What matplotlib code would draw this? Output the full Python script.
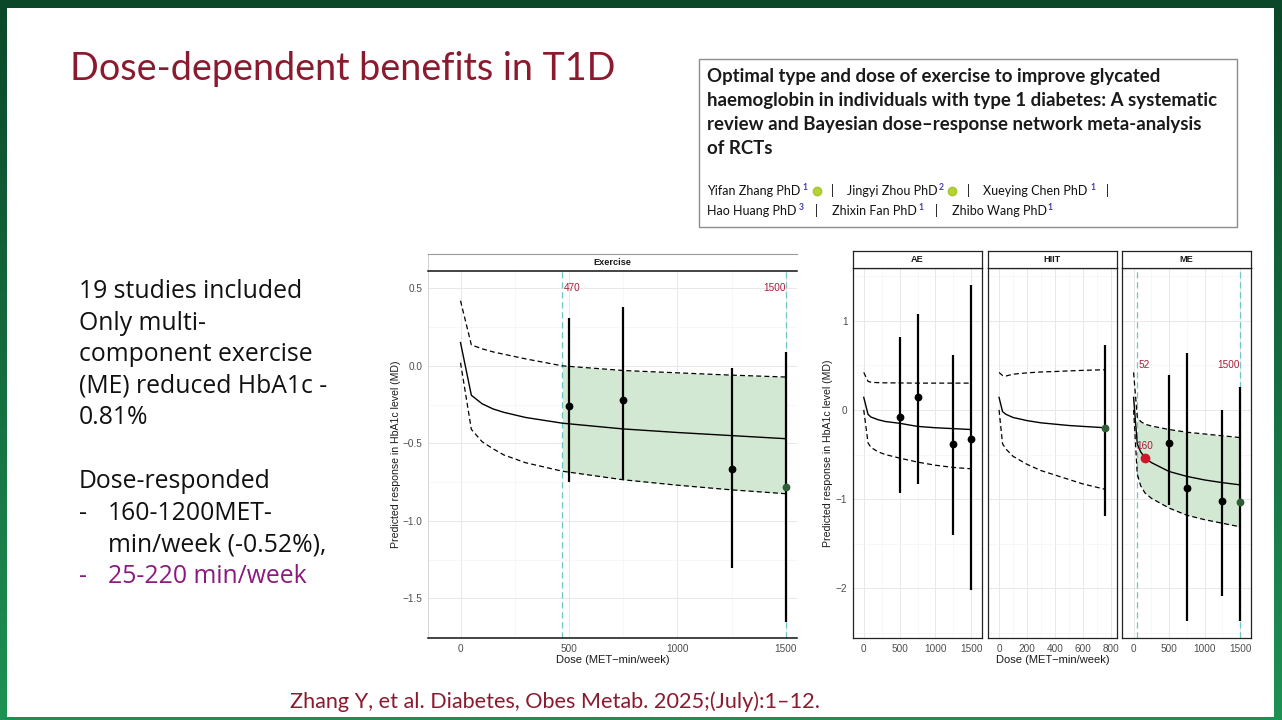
import matplotlib.pyplot as plt
import numpy as np
from matplotlib.patches import Rectangle
from matplotlib.ticker import FixedLocator
from matplotlib.colors import LinearSegmentedColormap

W, H = 1282, 720

# ---- data ----
ex_dose = [0, 50, 100, 150, 200, 300, 470, 750, 1000, 1250, 1500]
ex_fit = [0.15, -0.19, -0.245, -0.278, -0.30, -0.333, -0.37, -0.407, -0.43, -0.45, -0.47]
ex_upper = [0.42, 0.135, 0.11, 0.09, 0.075, 0.045, 0.0, -0.03, -0.045, -0.06, -0.072]
ex_lower = [0.02, -0.41, -0.49, -0.535, -0.575, -0.625, -0.68, -0.735, -0.77, -0.80, -0.825]
ex_pt_dose = [500, 750, 1250, 1500]
ex_pt_md = [-0.262, -0.219, -0.663, -0.783]
ex_pt_lo = [-0.75, -0.738, -1.307, -1.652]
ex_pt_hi = [0.31, 0.382, -0.015, 0.092]
ex_marks = [470, 1500]

ae_dose = [0, 60, 100, 200, 300, 500, 750, 1000, 1250, 1500]
ae_fit = [0.14, -0.05, -0.08, -0.11, -0.13, -0.15, -0.185, -0.20, -0.21, -0.22]
ae_upper = [0.42, 0.32, 0.31, 0.305, 0.303, 0.302, 0.30, 0.30, 0.30, 0.30]
ae_lower = [0.0, -0.37, -0.42, -0.47, -0.50, -0.54, -0.585, -0.62, -0.645, -0.66]
ae_pt_dose = [500, 750, 1250, 1500]
ae_pt_md = [-0.08, 0.14, -0.385, -0.325]
ae_pt_lo = [-0.93, -0.83, -1.40, -2.02]
ae_pt_hi = [0.82, 1.08, 0.61, 1.40]

hiit_dose = [0, 25, 50, 100, 200, 300, 400, 500, 600, 760]
hiit_fit = [0.14, -0.02, -0.05, -0.085, -0.12, -0.145, -0.16, -0.175, -0.185, -0.20]
hiit_upper = [0.42, 0.385, 0.38, 0.40, 0.415, 0.425, 0.43, 0.437, 0.443, 0.45]
hiit_lower = [0.0, -0.38, -0.44, -0.52, -0.61, -0.68, -0.73, -0.78, -0.83, -0.89]
hiit_pt_dose = [760]
hiit_pt_md = [-0.20]
hiit_pt_lo = [-1.19]
hiit_pt_hi = [0.73]

me_dose = [0, 52, 100, 160, 250, 500, 750, 1000, 1250, 1500]
me_fit = [0.14, -0.38, -0.47, -0.535, -0.59, -0.69, -0.745, -0.785, -0.815, -0.84]
me_upper = [0.42, -0.08, -0.13, -0.16, -0.18, -0.22, -0.25, -0.27, -0.29, -0.31]
me_lower = [0.0, -0.72, -0.85, -0.93, -0.99, -1.10, -1.18, -1.23, -1.27, -1.31]
me_pt_dose = [500, 750, 1250, 1500]
me_pt_md = [-0.37, -0.87, -1.02, -1.03]
me_pt_lo = [-1.07, -2.36, -2.09, -2.37]
me_pt_hi = [0.39, 0.64, 0.0, 0.26]
me_opt_dose, me_opt_md = 160, -0.535
me_marks = [52, 1500]

ex_yticks = [0.5, 0.0, -0.5, -1.0, -1.5]
ex_ylabels = ["0.5", "0.0", "\u22120.5", "\u22121.0", "\u22121.5"]
fac_yticks = [1, 0, -1, -2]
fac_ylabels = ["1", "0", "\u22121", "\u22122"]

left_lines = ["19 studies included", "Only multi-", "component exercise",
              "(ME) reduced HbA1c -", "0.81%"]

RED = "#a51c36"
TEAL = "#6cc5c8"
FILL = "#d3e8d3"
DKGREEN = "#2d5e35"
CHART_FONT = "Liberation Sans"
BODY_FONT = "Open Sans"

fig = plt.figure(figsize=(W / 100, H / 100), dpi=100)

# slide background in pixel coordinates
bg = fig.add_axes([0, 0, 1, 1])
bg.set_xlim(0, W)
bg.set_ylim(H, 0)
bg.axis("off")
grad = np.linspace(0, 1, 256).reshape(-1, 1)
cmap = LinearSegmentedColormap.from_list("frame", ["#0b4729", "#1f9154"])
bg.imshow(grad, cmap=cmap, extent=(0, W, H, 0), aspect="auto", zorder=0)
bg.add_patch(Rectangle((7, 8), 1267, 709, facecolor="white", edgecolor="none", zorder=1))

bg.text(70, 80, "Dose-dependent benefits in T1D", fontsize=27.2, color="#8b1a2e",
        family="Lato", va="baseline", zorder=3)

body = dict(fontsize=17.8, family=BODY_FONT, color="#111111", va="baseline", zorder=3)
y0 = 298
for i, line in enumerate(left_lines):
    bg.text(79, y0 + i * 31.5, line, **body)
bg.text(79, 488, "Dose-responded", **body)
bg.text(79, 520, "-", **body)
bg.text(108, 520, "160-1200MET-", **body)
bg.text(108, 551, "min/week (-0.52%),", **body)
body["color"] = "#8a1a7e"
bg.text(79, 583, "-", **body)
bg.text(108, 583, "25-220 min/week", **body)

bg.text(290, 708, "Zhang Y, et al. Diabetes, Obes Metab. 2025;(July):1\u201312.", fontsize=15.6,
        family="Lato", color="#8b1a2e", va="baseline", zorder=3)

# paper box
bg.add_patch(Rectangle((699, 59), 538, 168, facecolor="white", edgecolor="#8c8c8c", lw=1.0, zorder=2))
paper_title = ["Optimal type and dose of exercise to improve glycated",
               "haemoglobin in individuals with type 1 diabetes: A systematic",
               "review and Bayesian dose\u2013response network meta-analysis",
               "of RCTs"]
for i, line in enumerate(paper_title):
    bg.text(707, 82 + i * 24, line, fontsize=13.4, fontweight="bold", family="Lato",
            color="#1a1a1a", va="baseline", zorder=3)

authors = [
    (707, 195, "Yifan Zhang PhD", "1", 802, 817, 831),
    (847, 195, "Jingyi Zhou PhD", "2", 939, 952, 967),
    (983, 195, "Xueying Chen PhD", "1", 1090, None, 1106),
    (707, 215, "Hao Huang PhD", "3", 799, None, 815),
    (832, 215, "Zhixin Fan PhD", "1", 918, None, 935),
    (952, 215, "Zhibo Wang PhD", "1", 1047, None, None),
]
for x, y, name, sup, xs, xo, xbar in authors:
    bg.text(x, y, name, fontsize=9.0, family="Lato", color="#111111", va="baseline", zorder=3)
    bg.text(xs, y - 5, sup, fontsize=6.2, fontweight="bold", family="Lato", color="#4040a8",
            va="baseline", zorder=3)
    if xo is not None:
        bg.plot(xo, y - 4, "o", ms=6, color="#b5d334", mec="#a6c52e", zorder=3)
    if xbar is not None:
        bg.text(xbar, y, "|", fontsize=9.0, family="Lato", color="#111111", va="baseline", zorder=3)


def add_px_axes(x0, y0_, x1, y1):
    return fig.add_axes([x0 / W, 1 - y1 / H, (x1 - x0) / W, (y1 - y0_) / H])


def strip(x0, y0_, x1, y1, label, boxed=True):
    s = add_px_axes(x0, y0_, x1, y1)
    s.set_xticks([])
    s.set_yticks([])
    s.set_facecolor("white")
    if boxed:
        for sp in s.spines.values():
            sp.set_color("#222222")
            sp.set_linewidth(0.9)
    else:
        s.spines["right"].set_visible(False)
        s.spines["top"].set_color("#9a9a9a")
        s.spines["left"].set_color("#c8c8c8")
        s.spines["bottom"].set_color("#111111")
        s.spines["bottom"].set_linewidth(1.1)
        s.spines["top"].set_linewidth(0.8)
        s.spines["left"].set_linewidth(0.6)
    s.text(0.5, 0.5, label, transform=s.transAxes, ha="center", va="center",
           fontsize=6.6, fontweight="bold", family=CHART_FONT, color="#1a1a1a")
    return s


def style(ax, xlim, ylim, xmaj, xmin, ymaj, ymin):
    ax.set_xlim(xlim)
    ax.set_ylim(ylim)
    ax.xaxis.set_major_locator(FixedLocator(xmaj))
    ax.xaxis.set_minor_locator(FixedLocator(xmin))
    ax.yaxis.set_major_locator(FixedLocator(ymaj))
    ax.yaxis.set_minor_locator(FixedLocator(ymin))
    ax.grid(which="major", color="#e8e8e8", lw=0.7)
    ax.grid(which="minor", color="#f3f3f3", lw=0.45)
    ax.set_axisbelow(True)
    ax.tick_params(which="both", length=0, labelsize=7.2, labelcolor="#4d4d4d", pad=4)


def draw_curves(ax, dose, fit, upper, lower, fill_from=None):
    if fill_from is not None:
        where = [d >= fill_from for d in dose]
        ax.fill_between(dose, lower, upper, where=where, color=FILL, lw=0, zorder=1)
    ax.plot(dose, fit, color="black", lw=1.0, zorder=3)
    ax.plot(dose, upper, color="black", lw=0.9, ls=(0, (4, 2.5)), zorder=3)
    ax.plot(dose, lower, color="black", lw=0.9, ls=(0, (4, 2.5)), zorder=3)


def draw_points(ax, dose, md, lo, hi, last_green=False):
    ax.vlines(dose, lo, hi, color="black", lw=1.6, zorder=4)
    cols = ["black"] * len(dose)
    if last_green:
        cols[-1] = DKGREEN
    for d, m, c in zip(dose, md, cols):
        ax.plot(d, m, "o", ms=4.6, color=c, zorder=5)


def set_fonts(ax):
    for lab in ax.get_xticklabels() + ax.get_yticklabels():
        lab.set_family(CHART_FONT)


# ---- Exercise panel ----
ax = add_px_axes(428, 271, 797, 638)
strip(428, 254, 797, 271, "Exercise", boxed=False)
style(ax, (-150, 1552), (-1.756, 0.612), [0, 500, 1000, 1500], [250, 750, 1250],
      ex_yticks, [0.25, -0.25, -0.75, -1.25])
ax.set_xticklabels(["0", "500", "1000", "1500"])
ax.set_yticklabels(ex_ylabels)
set_fonts(ax)
ax.spines["top"].set_visible(False)
ax.spines["right"].set_visible(False)
ax.spines["left"].set_color("#d0d0d0")
ax.spines["left"].set_linewidth(0.6)
ax.spines["bottom"].set_color("#111111")
ax.spines["bottom"].set_linewidth(1.1)
for m in ex_marks:
    ax.axvline(m, color=TEAL, lw=0.9, ls=(0, (5, 3)), zorder=2)
draw_curves(ax, ex_dose, ex_fit, ex_upper, ex_lower, fill_from=ex_marks[0])
draw_points(ax, ex_pt_dose, ex_pt_md, ex_pt_lo, ex_pt_hi, last_green=True)
ax.text(ex_marks[0] + 8, 0.5, str(ex_marks[0]), color=RED, fontsize=7.2, family=CHART_FONT,
        ha="left", va="center", zorder=6)
ax.text(ex_marks[1], 0.5, str(ex_marks[1]), color=RED, fontsize=7.2, family=CHART_FONT,
        ha="right", va="center", zorder=6)
ax.set_ylabel("Predicted response in HbA1c level (MD)", fontsize=7.6, family=CHART_FONT,
              color="#1a1a1a", labelpad=1)
ax.set_xlabel("Dose (MET\u2212min/week)", fontsize=8, family=CHART_FONT, color="#1a1a1a", labelpad=1)

# ---- AE / HIIT / ME facets ----
ylim_f = (-2.556, 1.59)
ymin_f = [1.5, 0.5, -0.5, -1.5, -2.5]
panels = [
    ("AE", 853, 982, (-150, 1650), [0, 500, 1000, 1500], [250, 750, 1250]),
    ("HIIT", 988, 1117, (-79, 843), [0, 200, 400, 600, 800], [100, 300, 500, 700]),
    ("ME", 1122, 1251, (-163, 1654), [0, 500, 1000, 1500], [250, 750, 1250]),
]
faxes = []
for name, x0, x1, xl, xmaj, xmin in panels:
    a = add_px_axes(x0, 268, x1, 638)
    strip(x0, 251, x1, 268, name, boxed=True)
    style(a, xl, ylim_f, xmaj, xmin, fac_yticks, ymin_f)
    a.set_xticklabels([str(v) for v in xmaj])
    for sp in a.spines.values():
        sp.set_color("#222222")
        sp.set_linewidth(0.9)
    if name == "AE":
        a.set_yticklabels(fac_ylabels)
        a.set_ylabel("Predicted response in HbA1c level (MD)", fontsize=7.6, family=CHART_FONT,
                     color="#1a1a1a", labelpad=2)
    else:
        a.set_yticklabels([])
    set_fonts(a)
    faxes.append(a)

a_ae, a_hiit, a_me = faxes
draw_curves(a_ae, ae_dose, ae_fit, ae_upper, ae_lower)
draw_points(a_ae, ae_pt_dose, ae_pt_md, ae_pt_lo, ae_pt_hi)

draw_curves(a_hiit, hiit_dose, hiit_fit, hiit_upper, hiit_lower)
draw_points(a_hiit, hiit_pt_dose, hiit_pt_md, hiit_pt_lo, hiit_pt_hi, last_green=True)
a_hiit.set_xlabel("Dose (MET\u2212min/week)", fontsize=8, family=CHART_FONT, color="#1a1a1a", labelpad=1)

for m in me_marks:
    a_me.axvline(m, color=TEAL, lw=0.9, ls=(0, (5, 3)), zorder=2)
draw_curves(a_me, me_dose, me_fit, me_upper, me_lower, fill_from=me_marks[0])
draw_points(a_me, me_pt_dose, me_pt_md, me_pt_lo, me_pt_hi, last_green=True)
a_me.plot(me_opt_dose, me_opt_md, "o", ms=6, color="#d0142a", zorder=6)
a_me.text(me_marks[0] + 15, 0.5, str(me_marks[0]), color=RED, fontsize=7.2, family=CHART_FONT,
          ha="left", va="center", zorder=6)
a_me.text(me_marks[1], 0.5, str(me_marks[1]), color=RED, fontsize=7.2, family=CHART_FONT,
          ha="right", va="center", zorder=6)
a_me.text(me_opt_dose, -0.40, str(me_opt_dose), color=RED, fontsize=7.2, family=CHART_FONT,
          ha="center", va="center", zorder=6)

fig.savefig("out.png", dpi=100)
